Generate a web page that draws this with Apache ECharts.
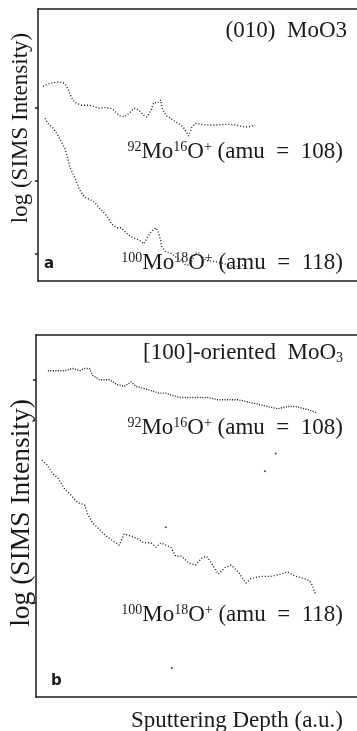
<!DOCTYPE html>
<html>
<head>
<meta charset="utf-8">
<script src="https://cdn.jsdelivr.net/npm/echarts@6/dist/echarts.min.js"></script>
<style>html,body{margin:0;padding:0;background:#fff;}#c{width:357px;height:731px;}</style>
</head>
<body>
<div id="c"></div>
<script>
// Sputtering depth (a.u.) and log(SIMS intensity) in decades (arbitrary offset)
const aUpperX = [5,12,20,27,30,34,37,44,52,62,69,75,82,87,92,97,102,107,110,114,117,120,124,125,129,134,139,144,147,150,152,155,159,164,172,182,192,200,209,215,219];
const aUpperY = [2.30,2.34,2.36,2.34,2.27,2.14,2.08,2.04,2.04,2.00,2.01,1.99,1.90,1.88,1.93,2.00,1.97,1.90,1.88,1.97,2.08,2.07,2.11,2.01,1.90,1.86,1.81,1.77,1.73,1.67,1.62,1.73,1.79,1.78,1.77,1.77,1.78,1.77,1.74,1.75,1.77];
const aLowerX = [7,10,15,20,24,27,30,32,35,39,42,47,52,57,62,69,74,79,84,89,95,102,107,110,114,119,122,125,129,134,139,144,149,152,155,159,162,165,170,177,184,190,197,204,208,210];
const aLowerY = [1.86,1.79,1.73,1.63,1.53,1.45,1.32,1.19,1.11,0.99,0.88,0.78,0.75,0.71,0.63,0.53,0.42,0.36,0.36,0.29,0.23,0.19,0.14,0.22,0.30,0.36,0.29,0.10,0.03,0.01,-0.04,-0.08,-0.15,-0.15,-0.10,0.01,0.02,-0.03,-0.09,-0.10,-0.12,-0.14,-0.17,-0.17,-0.14,-0.21];
const bUpperX = [12,21,29,37,44,49,54,57,64,74,81,89,96,101,109,117,124,131,137,146,154,164,174,184,194,204,214,224,234,244,254,262,271,279,284];
const bUpperY = [1.04,1.04,1.04,1.05,1.04,1.05,1.05,1.02,1.00,1.00,0.98,0.97,0.99,0.97,0.96,0.95,0.94,0.94,0.93,0.92,0.92,0.92,0.92,0.91,0.91,0.91,0.90,0.89,0.88,0.87,0.88,0.88,0.87,0.86,0.85];
const bLowerX = [6,11,17,22,29,36,42,49,52,57,64,71,77,84,89,96,102,109,116,121,126,136,141,147,154,161,167,172,177,184,191,197,204,212,217,227,237,247,254,262,271,276,279,282];
const bLowerY = [0.64,0.62,0.58,0.56,0.51,0.48,0.45,0.44,0.40,0.36,0.33,0.30,0.28,0.26,0.31,0.30,0.29,0.27,0.27,0.25,0.27,0.25,0.21,0.21,0.18,0.17,0.20,0.21,0.18,0.13,0.16,0.17,0.14,0.09,0.11,0.12,0.12,0.13,0.14,0.12,0.11,0.10,0.08,0.04];
const bStrayX = [131,231,242,137];
const bStrayY = [0.34,0.59,0.67,-0.29];
const aTicks = [0,1,2];
const bTicks = [0,1];

const zip = (xs, ys) => xs.map((x, i) => [x, ys[i]]);
const SERIF = "'Liberation Serif','DejaVu Serif',serif";
const ink = '#1a1a1a';

const chart = echarts.init(document.getElementById('c'));

function rich(sz) {
  return {
    n: {fontFamily: SERIF, fontWeight: 'normal', fontSize: sz, color: ink, lineHeight: 24},
    sup: {fontFamily: SERIF, fontWeight: 'normal', fontSize: Math.round(sz*0.62), color: ink, lineHeight: 14, verticalAlign: 'top'},
    sub: {fontFamily: SERIF, fontWeight: 'normal', fontSize: Math.round(sz*0.62), color: ink, lineHeight: 12, verticalAlign: 'bottom'}
  };
}
function label(text, right, top, sz) {
  return {text: text, right: right, top: top, padding: 0, textStyle: {fontWeight: 'normal', rich: rich(sz)}};
}
const lbl108 = '{sup|92}{n|Mo}{sup|16}{n|O}{sup|+}{n| (amu  =  108)}';
const lbl118 = '{sup|100}{n|Mo}{sup|18}{n|O}{sup|+}{n| (amu  =  118)}';

const axLine = {show: true, onZero: false, lineStyle: {color: ink, width: 1.5}};

chart.setOption({
  animation: false,
  backgroundColor: '#fff',
  title: [
    label('{n|(010)  MoO3}', 10, 19, 23),
    label(lbl108, 14, 140, 23),
    label(lbl118, 14, 251, 23),
    label('{n|[100]-oriented  MoO}{sub|3}', 14, 341, 23),
    label(lbl108, 14, 416, 23),
    label(lbl118, 14, 603, 23),
    label('{n|Sputtering Depth (a.u.)}', 14, 709, 23),
    {text: 'a', left: 44, top: 257, padding: 0, textStyle: {fontFamily: "'DejaVu Sans',sans-serif", fontWeight: 'bold', fontSize: 15, color: ink}},
    {text: 'b', left: 51, top: 674, padding: 0, textStyle: {fontFamily: "'DejaVu Sans',sans-serif", fontWeight: 'bold', fontSize: 15, color: ink}}
  ],
  graphic: [
    {type: 'text', x: 21, y: 128, rotation: Math.PI/2, style: {text: 'log (SIMS Intensity)', fontFamily: SERIF, fontSize: 23, fill: ink, textAlign: 'center', textVerticalAlign: 'middle'}},
    {type: 'text', x: 22, y: 513, rotation: Math.PI/2, style: {text: 'log (SIMS Intensity)', fontFamily: SERIF, fontSize: 27.5, fill: ink, textAlign: 'center', textVerticalAlign: 'middle'}}
  ],
  grid: [
    {left: 38, top: 9, right: -3, height: 272},
    {left: 36, top: 335, right: -3, height: 362}
  ],
  xAxis: [
    {gridIndex: 0, type: 'value', min: 0, max: 322, position: 'bottom', axisLine: axLine, axisTick: {show: false}, axisLabel: {show: false}, splitLine: {show: false}},
    {gridIndex: 0, type: 'value', min: 0, max: 322, position: 'top', axisLine: axLine, axisTick: {show: false}, axisLabel: {show: false}, splitLine: {show: false}},
    {gridIndex: 1, type: 'value', min: 0, max: 324, position: 'bottom', axisLine: axLine, axisTick: {show: false}, axisLabel: {show: false}, splitLine: {show: false}},
    {gridIndex: 1, type: 'value', min: 0, max: 324, position: 'top', axisLine: axLine, axisTick: {show: false}, axisLabel: {show: false}, splitLine: {show: false}}
  ],
  yAxis: [
    {gridIndex: 0, type: 'value', min: -0.37, max: 3.36, axisLine: axLine, axisTick: {show: true, customValues: aTicks, length: 3, lineStyle: {color: ink, width: 1.5}}, axisLabel: {show: false}, splitLine: {show: false}},
    {gridIndex: 1, type: 'value', min: -0.42, max: 1.20, axisLine: axLine, axisTick: {show: true, customValues: bTicks, length: 3, lineStyle: {color: ink, width: 1.5}}, axisLabel: {show: false}, splitLine: {show: false}}
  ],
  series: [
    {type: 'line', xAxisIndex: 0, yAxisIndex: 0, data: zip(aUpperX, aUpperY), showSymbol: false, lineStyle: {color: ink, width: 1.4, type: [1, 2]}},
    {type: 'line', xAxisIndex: 0, yAxisIndex: 0, data: zip(aLowerX, aLowerY), showSymbol: false, lineStyle: {color: ink, width: 1.4, type: [1, 2]}},
    {type: 'line', xAxisIndex: 2, yAxisIndex: 1, data: zip(bUpperX, bUpperY), showSymbol: false, lineStyle: {color: ink, width: 1.4, type: [1, 1.5]}},
    {type: 'line', xAxisIndex: 2, yAxisIndex: 1, data: zip(bLowerX, bLowerY), showSymbol: false, lineStyle: {color: ink, width: 1.4, type: [1, 2]}},
    {type: 'scatter', xAxisIndex: 2, yAxisIndex: 1, data: zip(bStrayX, bStrayY), symbolSize: 2, itemStyle: {color: ink}}
  ]
});
</script>
</body>
</html>
